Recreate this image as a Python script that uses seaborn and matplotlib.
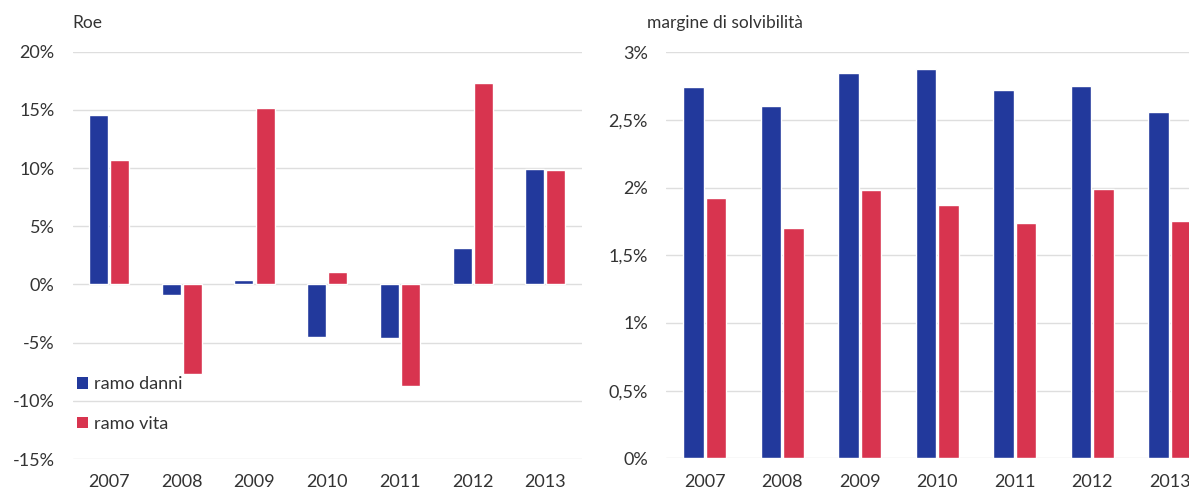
import matplotlib
matplotlib.use("Agg")
import matplotlib.pyplot as plt
from matplotlib.patches import Patch
import pandas as pd
import seaborn as sns

# Data
years = ["2007", "2008", "2009", "2010", "2011", "2012", "2013"]
series = ["ramo danni", "ramo vita"]
roe_danni = [14.6, -0.9, 0.35, -4.55, -4.6, 3.1, 9.9]
roe_vita = [10.7, -7.7, 15.2, 1.1, -8.7, 17.3, 9.8]
solv_danni = [2.74, 2.60, 2.85, 2.88, 2.72, 2.75, 2.56]
solv_vita = [1.92, 1.70, 1.98, 1.87, 1.74, 1.99, 1.75]

roe_ticks = [20, 15, 10, 5, 0, -5, -10, -15]
roe_ticklabels = ["20%", "15%", "10%", "5%", "0%", "-5%", "-10%", "-15%"]
solv_ticks = [3, 2.5, 2, 1.5, 1, 0.5, 0]
solv_ticklabels = ["3%", "2,5%", "2%", "1,5%", "1%", "0,5%", "0%"]

title_left = "Roe"
title_right = "margine di solvibilità"

colors = {"ramo danni": "#22399c", "ramo vita": "#d8344f"}
grid_color = "#dedede"
text_color = "#333333"

sns.set_theme(style="white")
plt.rcParams["font.family"] = ["Lato", "DejaVu Sans"]


def long_frame(a, b):
    return pd.DataFrame({
        "anno": years * 2,
        "serie": [series[0]] * len(years) + [series[1]] * len(years),
        "valore": list(a) + list(b),
    })


W, H = 1189, 492
fig = plt.figure(figsize=(W / 100, H / 100), dpi=100)
ax1 = fig.add_axes([72.7 / W, 1 - 459 / H, 509 / W, 407.2 / H])
ax2 = fig.add_axes([666 / W, 1 - 458.3 / H, 542.5 / W, 406 / H])

for ax, df, ticks, labels, ylim in [
    (ax1, long_frame(roe_danni, roe_vita), roe_ticks, roe_ticklabels, (-15, 20)),
    (ax2, long_frame(solv_danni, solv_vita), solv_ticks, solv_ticklabels, (0, 3)),
]:
    sns.barplot(data=df, x="anno", y="valore", hue="serie", hue_order=series,
                palette=colors, width=0.58, gap=0.1, saturation=1,
                legend=False, ax=ax, zorder=3)
    ax.set_xlim(-0.5, 6.5)
    ax.set_ylim(*ylim)
    ax.set_yticks(ticks)
    ax.set_yticklabels(labels)
    ax.set_xlabel("")
    ax.set_ylabel("")
    ax.grid(axis="y", color=grid_color, linewidth=1.0, zorder=0)
    ax.set_axisbelow(True)
    for s in ax.spines.values():
        s.set_visible(False)
    ax.tick_params(axis="both", length=0, labelsize=13, colors=text_color)
    ax.tick_params(axis="y", pad=13)
    ax.tick_params(axis="x", pad=11)

fig.text(72 / W, 1 - 23 / H, title_left, fontsize=12.5, color=text_color,
         va="center", ha="left")
fig.text(647 / W, 1 - 23 / H, title_right, fontsize=12.5, color=text_color,
         va="center", ha="left")

handles = [Patch(facecolor=colors[s], edgecolor="none", label=s) for s in series]
leg = ax1.legend(handles=handles, loc="upper left", bbox_to_anchor=(0.008, 0.203),
                 frameon=False, fontsize=13, handlelength=0.6, handleheight=0.6,
                 handletextpad=0.35, labelspacing=1.3, borderpad=0, borderaxespad=0)
for t in leg.get_texts():
    t.set_color(text_color)

fig.savefig("out.png", dpi=100)
